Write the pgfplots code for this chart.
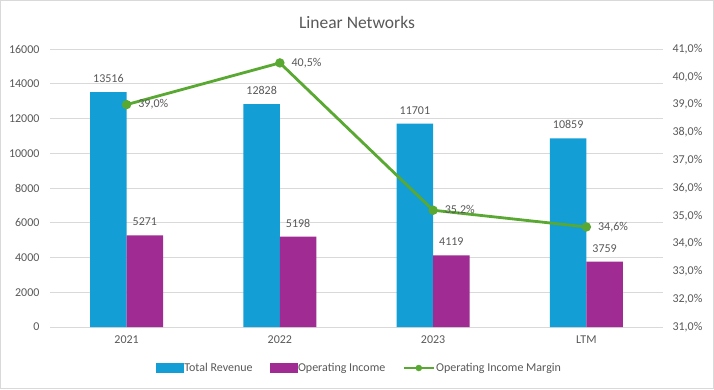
\documentclass[border=0pt]{standalone}
\usepackage{pgfplots}
\pgfplotsset{compat=1.18}
\usepackage{fontspec}
\setmainfont{Carlito}
\definecolor{rev}{HTML}{139FD6}
\definecolor{opi}{HTML}{A02B93}
\definecolor{mar}{HTML}{58A831}
\definecolor{txt}{HTML}{595959}
\definecolor{grd}{HTML}{D9D9D9}
\pgfkeys{/pgf/number format/assume math mode=true, /pgf/number format/1000 sep={}}
\newcommand{\tf}{\fontsize{12}{14}\selectfont}
\begin{document}
\begin{tikzpicture}[x=1pt,y=1pt]
\useasboundingbox (0,0) rectangle (714,389);
\fill[white] (0,0) rectangle (714,389);
\draw[grd, line width=1pt] (0.5,0.5) rectangle (713.5,388.5);
\node[text=txt, font=\fontsize{17.5}{20}\selectfont] at (357,367) {Linear Networks};
\begin{axis}[
  at={(50pt,62pt)}, anchor=south west,
  scale only axis, width=613pt, height=278pt,
  xmin=-0.5, xmax=3.5, ymin=0, ymax=16000,
  ybar=0pt, bar width=36.5pt,
  xtick={0,1,2,3}, xticklabels={2021,2022,2023,LTM},
  ytick={0,2000,...,16000},
  ymajorgrids, grid style={draw=grd, line width=0.75pt},
  axis line style={draw=none},
  major tick length=0pt,
  tick label style={text=txt, font=\tf},
  yticklabel style={xshift=-7pt},
  xticklabel style={yshift=-5pt},
  scaled y ticks=false,
  nodes near coords,
  every node near coord/.append style={text=txt, font=\tf, yshift=6pt},
  clip=false,
]
\addplot[fill=rev, draw=none] coordinates {(0,13516) (1,12828) (2,11701) (3,10859)};
\addplot[fill=opi, draw=none] coordinates {(0,5271) (1,5198) (2,4119) (3,3759)};
\end{axis}
\begin{axis}[
  at={(50pt,62pt)}, anchor=south west,
  scale only axis, width=613pt, height=278pt,
  xmin=-0.5, xmax=3.5, ymin=31, ymax=41,
  ytick={31,32,33,34,35,36,37,38,39,40,41},
  hide x axis,
  axis y line*=right,
  axis line style={draw=none},
  major tick length=0pt,
  yticklabel={\pgfmathprintnumber[fixed,fixed zerofill,precision=1,use comma]{\tick}\%},
  tick label style={text=txt, font=\tf},
  yticklabel style={xshift=6pt},
  legend columns=3,
  legend style={draw=none, fill=none, at={(0.504,-0.1475)}, anchor=center,
    font=\tf, text=txt, /tikz/every even column/.append style={column sep=16pt},
    nodes={inner xsep=1pt}},
  legend cell align=left,
  clip=false,
]
\addlegendimage{legend image code/.code={\fill[rev] (0pt,-4.5pt) rectangle (27pt,4.5pt);}}
\addlegendentry{Total Revenue}
\addlegendimage{legend image code/.code={\fill[opi] (0pt,-4.5pt) rectangle (27pt,4.5pt);}}
\addlegendentry{Operating Income}
\addlegendimage{legend image code/.code={\draw[mar, line width=2.8pt] (0pt,0pt) -- (30pt,0pt); \fill[mar] (15pt,0pt) circle (3pt);}}
\addlegendentry{Operating Income Margin}
\addplot[mar, line width=2.8pt, mark=*, mark size=3.2pt, forget plot,
  nodes near coords={\pgfmathprintnumber[fixed,fixed zerofill,precision=1,use comma]{\pgfplotspointmeta}\%},
  every node near coord/.style={anchor=west, xshift=7pt, text=txt, font=\tf}]
  coordinates {(0,39.0) (1,40.5) (2,35.2) (3,34.6)};
\end{axis}
\end{tikzpicture}
\end{document}
